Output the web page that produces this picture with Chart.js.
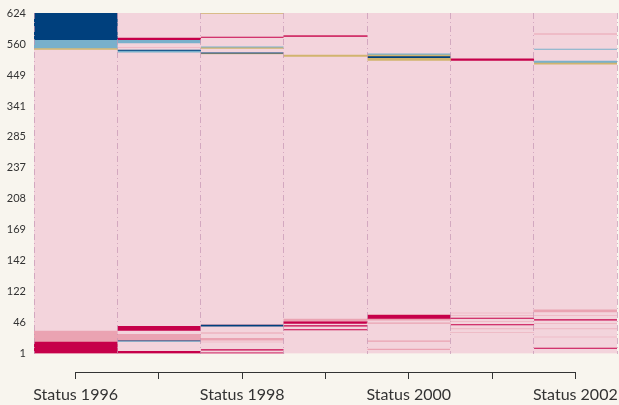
<!DOCTYPE html>
<html>
<head>
<meta charset="utf-8">
<script src="https://cdn.jsdelivr.net/npm/chart.js@4.4.1/dist/chart.umd.min.js"></script>
<style>
  html, body { margin: 0; padding: 0; background: #f8f5ee; }
  canvas { display: block; }
</style>
</head>
<body>
<canvas id="c" width="619" height="405"></canvas>
<script>
// ---- data ----
const categories = ["Status 1996", "Status 1997", "Status 1998", "Status 1999", "Status 2000", "Status 2001", "Status 2002"];
const yTickLabels = ["1", "46", "122", "142", "169", "208", "237", "285", "341", "449", "560", "624"];
const nSequences = 624;

// state codes: E = main state, M, C, D, L, G = other states
const stateCodes = ["E", "M", "C", "D", "L", "G"];

// run lengths (state, number of sequences), bottom to top
const status1996 = [["C",21],["M",20],["E",515],["G",3],["L",15],["D",50]];
const status1997 = [["C",4],["E",17],["L",1],["D",1],["M",12],["E",6],["C",9],["E",501],["L",3],["D",2],["E",4],["M",1],["E",7],["L",6],["C",4],["E",46]];
const status1998 = [["C",1],["E",4],["C",2],["E",13],["M",1],["E",2],["M",5],["E",8],["M",2],["E",11],["D",3],["M",1],["E",495],["G",1],["D",2],["E",7],["G",2],["L",2],["E",16],["C",2],["E",42],["G",2]];
const status1999 = [["E",42],["C",2],["E",5],["C",2],["E",3],["C",4],["M",5],["E",480],["G",4],["E",33],["C",2],["M",1],["E",41]];
const status2000 = [["E",6],["M",2],["E",13],["M",2],["E",31],["M",2],["E",4],["M",3],["C",7],["M",2],["E",464],["G",5],["D",3],["G",3],["L",2],["E",75]];
const status2001 = [["E",37],["M",1],["E",6],["M",1],["E",6],["C",2],["E",5],["M",1],["E",4],["C",2],["E",4],["M",1],["E",3],["M",1],["E",462],["C",4],["E",84]];
const status2002 = [["E",8],["C",2],["E",19],["M",1],["E",14],["M",1],["E",9],["M",1],["E",5],["C",2],["E",7],["M",1],["E",5],["M",5],["E",449],["G",3],["L",4],["E",20],["L",2],["E",26],["M",2],["E",38]];

const columns = [status1996, status1997, status1998, status1999, status2000, status2001, status2002];

// ---- styles ----
const palette = { E: "#f3d4dc", M: "#eaa3b2", C: "#c6004a", D: "#00407d", L: "#79b0cb", G: "#d1b46e" };
const ink = "#333333";

// build stacked layers
const nLayers = Math.max(...columns.map(c => c.length));
const datasets = [];
for (let k = 0; k < nLayers; k++) {
  datasets.push({
    data: columns.map(c => c[k] ? c[k][1] : 0),
    backgroundColor: columns.map(c => c[k] ? palette[c[k][0]] : "rgba(0,0,0,0)"),
    borderWidth: 0,
    barPercentage: 1,
    categoryPercentage: 1,
    xAxisID: "x",
    yAxisID: "y"
  });
}

const bracket = {
  id: "bracket",
  afterDraw(chart) {
    const s = chart.scales.x2;
    const ctx = chart.ctx;
    const y = Math.round(s.top) + 0.5;
    ctx.save();
    ctx.strokeStyle = ink;
    ctx.lineWidth = 1;
    ctx.beginPath();
    ctx.moveTo(Math.round(s.getPixelForValue(0)), y);
    ctx.lineTo(Math.round(s.getPixelForValue(categories.length - 1)) + 1, y);
    ctx.stroke();
    ctx.restore();
  }
};

new Chart(document.getElementById("c"), {
  type: "bar",
  data: { labels: categories, datasets },
  plugins: [bracket],
  options: {
    responsive: false,
    animation: false,
    events: [],
    layout: { padding: { top: 13, right: 2, left: 0, bottom: 0 } },
    plugins: { legend: { display: false }, tooltip: { enabled: false } },
    scales: {
      x: {
        type: "category",
        position: "bottom",
        weight: 0,
        stacked: true,
        offset: true,
        grid: { display: true, drawOnChartArea: true, drawTicks: false, offset: true, color: "rgba(196,150,180,0.7)", lineWidth: 1, z: 1 },
        border: { display: false, dash: [6, 3, 1, 3] },
        ticks: { display: false },
        afterFit: s => { s.height = 18.5; s.paddingLeft = 0; s.paddingRight = 0; }
      },
      x2: {
        type: "category",
        position: "bottom",
        weight: 1,
        offset: true,
        grid: { display: true, drawOnChartArea: false, drawTicks: true, tickLength: 7, color: ink, tickColor: ink, offset: false },
        border: { display: false },
        ticks: {
          autoSkip: false, maxRotation: 0, padding: 6, color: ink,
          font: { family: "Lato", size: 16 },
          callback: (v, i) => (i % 2 === 0 ? categories[i] : "")
        },
        afterFit: s => { s.height = 33; s.paddingLeft = 0; s.paddingRight = 0; }
      },
      y: {
        type: "linear",
        stacked: true,
        min: 0,
        max: nSequences,
        grid: { display: false, drawTicks: false },
        border: { display: false },
        afterBuildTicks: s => {
          s.ticks = yTickLabels.map((_, i) => ({ value: 0.5 + i * (nSequences - 1) / (yTickLabels.length - 1) }));
        },
        ticks: {
          autoSkip: false, padding: 8, color: ink,
          font: { family: "Lato", size: 11 },
          callback: (v, i) => yTickLabels[i]
        },
        afterFit: s => { s.width = 34; s.paddingTop = 0; s.paddingBottom = 0; }
      }
    }
  }
});
</script>
</body>
</html>
